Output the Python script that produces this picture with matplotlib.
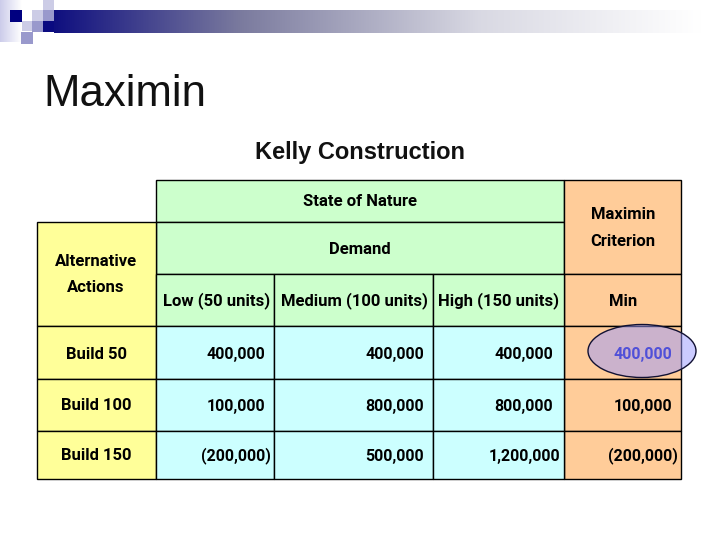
import numpy as np
import matplotlib
matplotlib.use("Agg")
import matplotlib.pyplot as plt
from matplotlib.patches import Rectangle, Ellipse

TITLE = "Maximin"
SUBTITLE = "Kelly Construction"
STATE_LABEL = "State of Nature"
DEMAND_LABEL = "Demand"
CRITERION_LABEL = "Maximin\nCriterion"
ACTIONS_LABEL = "Alternative\nActions"
MIN_LABEL = "Min"
STATES = ["Low (50 units)", "Medium (100 units)", "High (150 units)"]
ACTIONS = ["Build 50", "Build 100", "Build 150"]
PAYOFFS = [
    ["400,000", "400,000", "400,000"],
    ["100,000", "800,000", "800,000"],
    ["(200,000)", "500,000", "1,200,000"],
]
MINS = ["400,000", "100,000", "(200,000)"]

XS = [37, 156, 274, 433, 564, 681]
YS = [180, 222, 274, 326, 379, 431, 479]

GREEN = "#ccffcc"
YELLOW = "#ffff99"
ORANGE = "#ffcc99"
BLUE = "#ccffff"
BODY_FONT = "Roboto"


def cell(ax, x0, y0, x1, y1, color):
    ax.add_patch(Rectangle((x0, y0), x1 - x0, y1 - y0, facecolor=color, edgecolor="black", lw=1.0))


def label(ax, x, y, s, color="black", size=12, zorder=6):
    ax.text(x, y, s, ha="center", va="center", family=BODY_FONT, weight="bold", fontsize=size,
            color=color, linespacing=1.95, zorder=zorder)


def draw_header(ax):
    # band fades from navy through grey to white
    xs = np.linspace(54, 720, 400)
    band = np.stack([
        np.interp(xs, [54, 240, 480, 700], [0.06, 0.48, 0.85, 1.0]),
        np.interp(xs, [54, 240, 480, 700], [0.06, 0.48, 0.85, 1.0]),
        np.interp(xs, [54, 240, 480, 700], [0.50, 0.62, 0.89, 1.0]),
    ], axis=-1).reshape(1, -1, 3)
    ax.imshow(band, extent=(54, 720, 33, 10), aspect="auto", zorder=1)

    side = np.linspace(0, 1, 64).reshape(1, -1, 1)
    tint = np.array([0.80, 0.80, 0.92]).reshape(1, 1, 3)
    ax.imshow(tint + (1 - tint) * side, extent=(0, 22, 42, 0), aspect="auto", zorder=1)

    squares = [
        (10, 10, 12, "#000080"),
        (22, 10, 10, "#ffffff"),
        (32, 10, 11, "#ccccE6"),
        (43, 0, 11, "#ccccE6"),
        (43, 10, 11, "#9999cc"),
        (43, 21, 11, "#0a0a80"),
        (22, 21, 10, "#ccccE6"),
        (32, 21, 11, "#9999cc"),
        (21, 32, 12, "#9999cc"),
    ]
    for x, y, w, c in squares:
        ax.add_patch(Rectangle((x, y), w, w, facecolor=c, edgecolor="none", zorder=2))


def main():
    fig = plt.figure(figsize=(7.2, 5.4), dpi=100)
    ax = fig.add_axes([0, 0, 1, 1])

    draw_header(ax)
    ax.set_xlim(0, 720)
    ax.set_ylim(540, 0)
    ax.axis("off")

    ax.text(43, 95, TITLE, ha="left", va="center", family="Liberation Sans", fontsize=31.5, color="#111111")
    ax.text(360, 152, SUBTITLE, ha="center", va="center", family="Liberation Sans", weight="bold",
            fontsize=17, color="#111111")

    # header cells
    cell(ax, XS[1], YS[0], XS[4], YS[1], GREEN)
    cell(ax, XS[1], YS[1], XS[4], YS[2], GREEN)
    cell(ax, XS[0], YS[1], XS[1], YS[3], YELLOW)
    cell(ax, XS[4], YS[0], XS[5], YS[2], ORANGE)
    cell(ax, XS[4], YS[2], XS[5], YS[3], ORANGE)
    for i in range(3):
        cell(ax, XS[i + 1], YS[2], XS[i + 2], YS[3], GREEN)

    label(ax, 360, 202, STATE_LABEL)
    label(ax, 360, 249, DEMAND_LABEL)
    label(ax, 623, 228, CRITERION_LABEL)
    label(ax, 96, 274.5, ACTIONS_LABEL)
    label(ax, 623, 301, MIN_LABEL)
    for x, s in zip([216.5, 354.5, 498.5], STATES):
        label(ax, x, 301, s)

    # body rows
    row_text = [354.5, 406, 456]
    col_x = [236, 395, 524]
    for r in range(3):
        y0, y1 = YS[r + 3], YS[r + 4]
        cell(ax, XS[0], y0, XS[1], y1, YELLOW)
        cell(ax, XS[4], y0, XS[5], y1, ORANGE)
        for c in range(3):
            cell(ax, XS[c + 1], y0, XS[c + 2], y1, BLUE)
        label(ax, 96, row_text[r], ACTIONS[r])
        for c in range(3):
            label(ax, col_x[c], row_text[r], PAYOFFS[r][c], size=11.5)
        label(ax, 643, row_text[r], MINS[r], color="#5050d8" if r == 0 else "black", size=11.5)

    ax.add_patch(Ellipse((642, 351), 108, 53, facecolor="#9999ff", alpha=0.5, edgecolor="none", zorder=3))
    ax.add_patch(Ellipse((642, 351), 108, 53, facecolor="none", edgecolor="#111133", lw=1.0, zorder=4))

    fig.savefig("out.png", dpi=100)


if __name__ == "__main__":
    main()
